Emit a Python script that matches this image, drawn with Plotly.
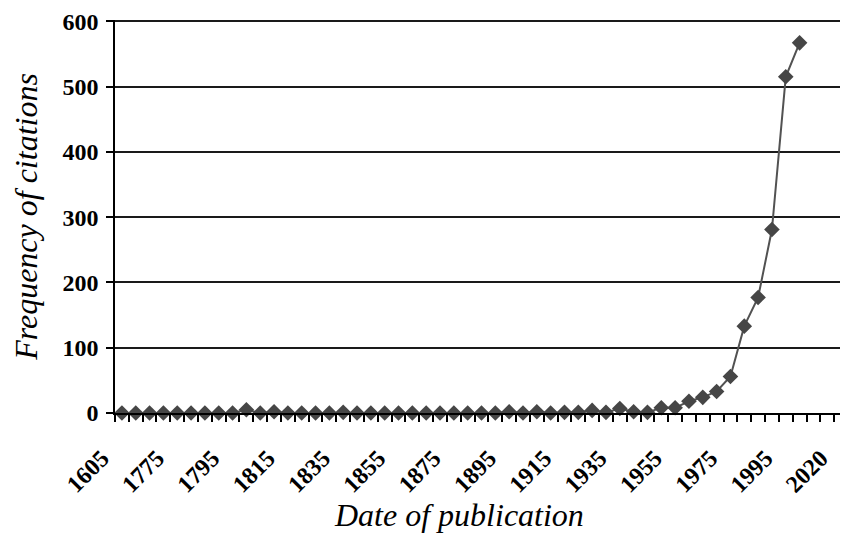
import plotly.graph_objects as go

# Category labels (5-year bins; first bin is 1605)
years = ["1605", "1760", "1765", "1770", "1775", "1780", "1785", "1790", "1795", "1800",
         "1805", "1810", "1815", "1820", "1825", "1830", "1835", "1840", "1845", "1850",
         "1855", "1860", "1865", "1870", "1875", "1880", "1885", "1890", "1895", "1900",
         "1905", "1910", "1915", "1920", "1925", "1930", "1935", "1940", "1945", "1950",
         "1955", "1960", "1965", "1970", "1975", "1980", "1985", "1990", "1995", "2000",
         "2005", "2010", "2020"]

# Frequency of citations per category (None = no data)
citations = [0, 0, 0, 0, 0, 0, 0, 0, 0, 5,
             0, 2, 0, 0, 0, 0, 1, 0, 0, 0,
             0, 0, 0, 0, 0, 0, 0, 0, 2, 0,
             2, 0, 1, 1, 4, 1, 7, 2, 1, 8,
             8, 18, 24, 33, 56, 133, 177, 281, 515, 567,
             None, None, None]

label_every = 4
y_ticks = [0, 100, 200, 300, 400, 500, 600]

idx = list(range(len(years)))
tick_idx = idx[::label_every]
tick_txt = [years[i] for i in tick_idx]

fig = go.Figure()
fig.add_trace(go.Scatter(
    x=idx, y=citations, mode="lines+markers",
    line=dict(color="#525252", width=2),
    marker=dict(symbol="diamond", size=12, color="#464646"),
    cliponaxis=False, showlegend=False,
))

serif = "Liberation Serif"

# page body has an 8px margin, so the figure is sized to fill the rest of the window
fig.update_layout(
    width=840, height=527,
    margin=dict(l=107, r=0, t=12, b=122),
    paper_bgcolor="white", plot_bgcolor="white",
    font=dict(family=serif, color="black"),
    xaxis=dict(
        automargin=False,
        range=[-0.5, len(years) - 0.5],
        tickmode="array", tickvals=tick_idx, ticktext=tick_txt,
        tickangle=-45, ticks="", ticklabelstandoff=20, ticklabelshift=-20,
        tickfont=dict(family=serif, size=24, weight="bold", color="black"),
        minor=dict(tickmode="linear", tick0=-0.5, dtick=1, ticks="outside",
                   ticklen=7, tickwidth=1.5, tickcolor="black", showgrid=False),
        showgrid=False, zeroline=False,
        showline=True, linecolor="black", linewidth=1.5,
    ),
    yaxis=dict(
        automargin=False,
        range=[0, 602], tickmode="array", tickvals=y_ticks,
        ticks="outside", ticklen=7, tickwidth=1.5, tickcolor="black",
        ticklabelstandoff=3, ticklabeloverflow="allow",
        tickfont=dict(family=serif, size=24, weight="bold", color="black"),
        showgrid=True, gridcolor="#1a1a1a", gridwidth=1.5,
        zeroline=False, showline=True, linecolor="black", linewidth=1.5,
        title=dict(text="Frequency of citations", standoff=19,
                   font=dict(family=serif, size=32, style="italic", color="black")),
    ),
    annotations=[dict(
        text="Date of publication", xref="paper", yref="paper",
        x=0.5, y=0, xanchor="center", yanchor="middle",
        xshift=-23, yshift=-102, showarrow=False,
        font=dict(family=serif, size=32, style="italic", color="black"),
    )],
)

fig.write_html("out.html")
